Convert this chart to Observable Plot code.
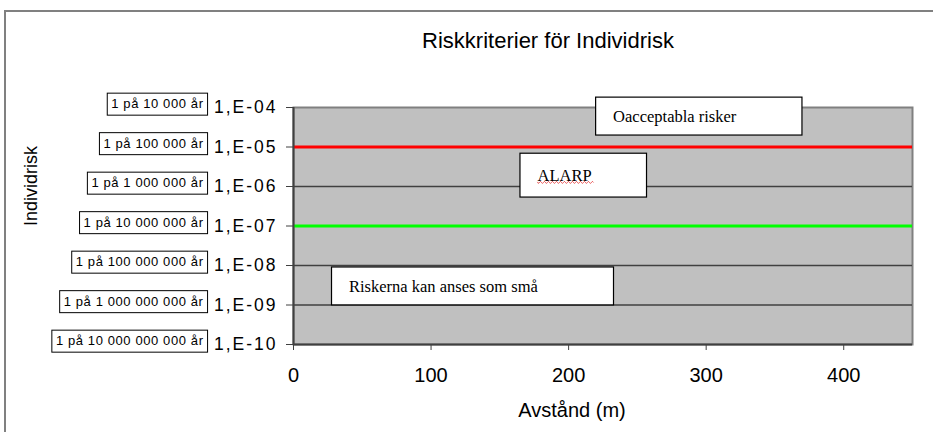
<!DOCTYPE html>
<html>
<head>
<meta charset="utf-8">
<script src="https://cdn.jsdelivr.net/npm/d3@7"></script>
<script src="https://cdn.jsdelivr.net/npm/@observablehq/plot@0.6"></script>
<style>
  html, body { margin: 0; padding: 0; background: #fff; }
  body { width: 933px; height: 432px; position: relative; overflow: hidden; font-family: "Liberation Sans", Arial, sans-serif; }
  #border { position: absolute; left: 4px; top: 10px; width: 1000px; height: 500px; border-left: 2px solid #808080; border-top: 2px solid #808080; }
  #title { position: absolute; left: 0; width: 1096px; top: 28px; text-align: center; font-size: 22px; color: #000; }
  #chart { position: absolute; left: 0; top: 0; }
</style>
</head>
<body>
<div id="border"></div>
<div id="title">Riskkriterier för Individrisk</div>
<div id="chart"></div>
<script>
// ---- data ----
const xTicks = [0, 100, 200, 300, 400];
const xDomain = [0, 450];
const riskTicks = [1e-4, 1e-5, 1e-6, 1e-7, 1e-8, 1e-9, 1e-10];
const returnLabels = [
  "1 på 10 000 år",
  "1 på 100 000 år",
  "1 på 1 000 000 år",
  "1 på 10 000 000 år",
  "1 på 100 000 000 år",
  "1 på 1 000 000 000 år",
  "1 på 10 000 000 000 år"
];
const gridLevels = [1e-6, 1e-8, 1e-9];
const unacceptableLevel = [1e-5];
const negligibleLevel = [1e-7];
const zoneLabels = ["Oacceptabla risker", "ALARP", "Riskerna kan anses som små"];
const zoneX1 = [220, 165, 28];
const zoneX2 = [370, 257, 233];
const zoneY1 = [Math.pow(10, -3.75), Math.pow(10, -5.17), Math.pow(10, -8.05)];
const zoneY2 = [Math.pow(10, -4.71), Math.pow(10, -6.28), Math.pow(10, -9.01)];
const xLabel = "Avstånd (m)";
const yLabel = "Individrisk";

const zones = zoneLabels.map((label, i) => ({
  label, x1: zoneX1[i], x2: zoneX2[i], y1: zoneY1[i], y2: zoneY2[i],
  yc: Math.sqrt(zoneY1[i] * zoneY2[i])
}));
const tickRows = riskTicks.map((v, i) => ({v, label: returnLabels[i]}));
const fmt = d => "1,E-" + String(Math.round(-Math.log10(d))).padStart(2, "0");

const chart = Plot.plot({
  width: 933,
  height: 432,
  marginLeft: 293,
  marginRight: 21,
  marginTop: 107,
  marginBottom: 88,
  style: {background: "transparent", fontFamily: "'Liberation Sans', Arial, sans-serif", color: "#000", overflow: "visible"},
  x: {domain: xDomain, label: null},
  y: {type: "log", domain: [1e-10, 1e-4], label: null},
  marks: [
    Plot.frame({fill: "#c0c0c0", stroke: "#808080", strokeWidth: 2}),
    Plot.ruleY(gridLevels, {stroke: "#404040", strokeWidth: 1.3}),
    Plot.ruleY(unacceptableLevel, {stroke: "#ff0000", strokeWidth: 3}),
    Plot.ruleY(negligibleLevel, {stroke: "#00ff00", strokeWidth: 3}),
    Plot.ruleX([xDomain[0]], {stroke: "#404040", strokeWidth: 2}),
    Plot.ruleY([1e-10], {stroke: "#404040", strokeWidth: 2}),
    Plot.axisY({ticks: riskTicks, tickFormat: fmt, tickSize: 7, tickPadding: 9, fontSize: 17.5, stroke: "#404040", label: null}),
    Plot.axisX({ticks: xTicks, tickSize: 6, tickPadding: 17, fontSize: 20, stroke: "#404040", label: null}),
    Plot.rect(zones, {x1: "x1", x2: "x2", y1: "y1", y2: "y2", fill: "white", stroke: "#000", strokeWidth: 1.2}),
    Plot.text(zones, {x: "x1", y: "yc", text: "label", dx: 17, textAnchor: "start", fontFamily: "'Liberation Serif', 'Times New Roman', serif", fontSize: 16.5, fill: "#000"}),
    Plot.text(tickRows, {y: "v", text: "label", frameAnchor: "left", dx: -90, dy: -3, textAnchor: "end", fontSize: 13, fill: "#000"}),
    Plot.text([xLabel], {frameAnchor: "bottom", dx: -31, dy: 72, fontSize: 20, fill: "#000"}),
    Plot.text([yLabel], {frameAnchor: "left", dx: -262, rotate: -90, fontSize: 18, fill: "#000"})
  ]
});
document.getElementById("chart").appendChild(chart);

const svg = d3.select(chart);
// wider y tick labels like the original
svg.selectAll("text").each(function() {
  if (/^1,E-\d\d$/.test(this.textContent)) this.style.letterSpacing = "2px";
});
// boxes around return-period labels and spell-check underline on ALARP
const svgBox = chart.getBoundingClientRect();
const overlay = svg.append("g");
svg.selectAll("text").each(function() {
  const t = this.textContent;
  if (returnLabels.includes(t)) this.style.letterSpacing = "0.6px";
});
svg.selectAll("text").each(function() {
  const t = this.textContent;
  const r = this.getBoundingClientRect();
  const x = r.left - svgBox.left, y = r.top - svgBox.top;
  if (returnLabels.includes(t)) {
    const cy = y + r.height / 2;
    overlay.append("rect")
      .attr("x", x - 4).attr("y", cy - 11)
      .attr("width", r.width + 8).attr("height", 22)
      .attr("fill", "white").attr("stroke", "#000").attr("stroke-width", 1);
    overlay.append("text")
      .attr("x", x + r.width).attr("y", cy).attr("dy", "0.32em")
      .attr("text-anchor", "end").attr("font-size", 13)
      .style("letter-spacing", "0.6px")
      .attr("font-family", "'Liberation Sans', Arial, sans-serif")
      .text(t);
    this.setAttribute("visibility", "hidden");
  }
  if (t === "ALARP") {
    const base = y + r.height - 3;
    let d = `M${x},${base}`;
    for (let px = x; px < x + r.width; px += 2) {
      d += `L${px + 1},${base + ((px - x) / 2 % 2 === 0 ? 1.5 : -0.5)}L${px + 2},${base + 0.5}`;
    }
    overlay.append("path").attr("d", d).attr("fill", "none").attr("stroke", "#e02020").attr("stroke-width", 0.8);
  }
});
</script>
</body>
</html>
